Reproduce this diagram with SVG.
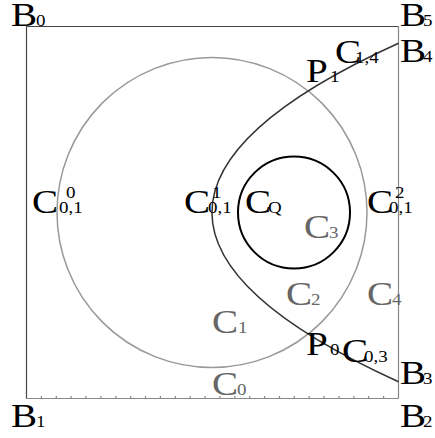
<svg xmlns="http://www.w3.org/2000/svg" width="435" height="438" viewBox="0 0 435 438">
<style>
text{font-family:"Liberation Serif","Times New Roman",serif;fill:#000;transform-box:fill-box;transform-origin:left bottom;transform:scaleX(1.15)}
.m{font-size:34px}
.s{font-size:16.5px}
.g{fill:#666}
.frameD{stroke:#444;stroke-width:1.2;fill:none}
.frameL{stroke:#888;stroke-width:1.2;fill:none}
</style>
<rect width="435" height="438" fill="#fff"/>
<g id="frame">
<line class="frameD" x1="26.5" y1="26.5" x2="398.5" y2="26.5"/>
<line class="frameD" x1="26.5" y1="26.5" x2="26.5" y2="398.5"/>
<line class="frameL" x1="398.5" y1="26.5" x2="398.5" y2="398.5"/>
<line class="frameL" x1="26.5" y1="398.5" x2="398.5" y2="398.5"/>
<path class="frameL" stroke-width="1" d="M41.4 398.5v-2.5M56.3 398.5v-2.5M71.1 398.5v-2.5M86 398.5v-2.5M100.9 398.5v-2.5M115.8 398.5v-2.5M130.7 398.5v-2.5M145.5 398.5v-2.5M160.4 398.5v-2.5M175.3 398.5v-2.5M190.2 398.5v-2.5M205.1 398.5v-2.5M219.9 398.5v-2.5M234.8 398.5v-2.5M249.7 398.5v-2.5M264.6 398.5v-2.5M279.5 398.5v-2.5M294.3 398.5v-2.5M309.2 398.5v-2.5M324.1 398.5v-2.5M339 398.5v-2.5M353.9 398.5v-2.5M368.7 398.5v-2.5M383.6 398.5v-2.5"/>
</g>
<g id="circleC0"><circle cx="212" cy="212.5" r="155" fill="none" stroke="#999" stroke-width="1.5"/></g>
<g id="circleCQ"><circle cx="294" cy="212.5" r="56" fill="none" stroke="#000" stroke-width="2"/></g>
<g id="connectors"><path id="curve" d="M398.5 43.3Q25.4 212.5 398.5 381.7" fill="none" stroke="#333" stroke-width="1.5"/></g>
<g id="labels">
<text class="m" x="11" y="26">B</text><text class="s" x="36" y="26">0</text>
<text class="m" x="400" y="26">B</text><text class="s" x="423" y="26">5</text>
<text class="m" x="400" y="62">B</text><text class="s" x="423" y="62">4</text>
<text class="m" x="400" y="384">B</text><text class="s" x="423" y="384">3</text>
<text class="m" x="11" y="427">B</text><text class="s" x="36" y="427">1</text>
<text class="m" x="400" y="427">B</text><text class="s" x="423" y="427">2</text>
<text class="m" x="306" y="82">P</text><text class="s" x="330" y="82">1</text>
<text class="m" x="335" y="63">C</text><text class="s" x="355" y="63">1,4</text>
<text class="m" x="32" y="213">C</text><text class="s" x="59" y="213">0,1</text><text class="s" x="66" y="198">0</text>
<text class="m" x="184" y="213">C</text><text class="s" x="208" y="213">0,1</text><text class="s" x="212" y="198">1</text>
<text class="m" x="245" y="213">C</text><text class="s" x="268" y="213">Q</text>
<text class="m" x="367" y="213">C</text><text class="s" x="389" y="213">0,1</text><text class="s" x="395" y="198">2</text>
<text class="m g" x="304" y="238">C</text><text class="s g" x="329" y="238">3</text>
<text class="m g" x="286" y="305">C</text><text class="s g" x="311" y="305">2</text>
<text class="m g" x="367" y="305">C</text><text class="s g" x="392" y="305">4</text>
<text class="m g" x="212" y="333">C</text><text class="s g" x="238" y="333">1</text>
<text class="m g" x="212" y="395">C</text><text class="s g" x="237" y="395">0</text>
<text class="m" x="306" y="355">P</text><text class="s" x="330" y="355">0</text>
<text class="m" x="342" y="362">C</text><text class="s" x="364" y="362">0,3</text>
</g>
</svg>
